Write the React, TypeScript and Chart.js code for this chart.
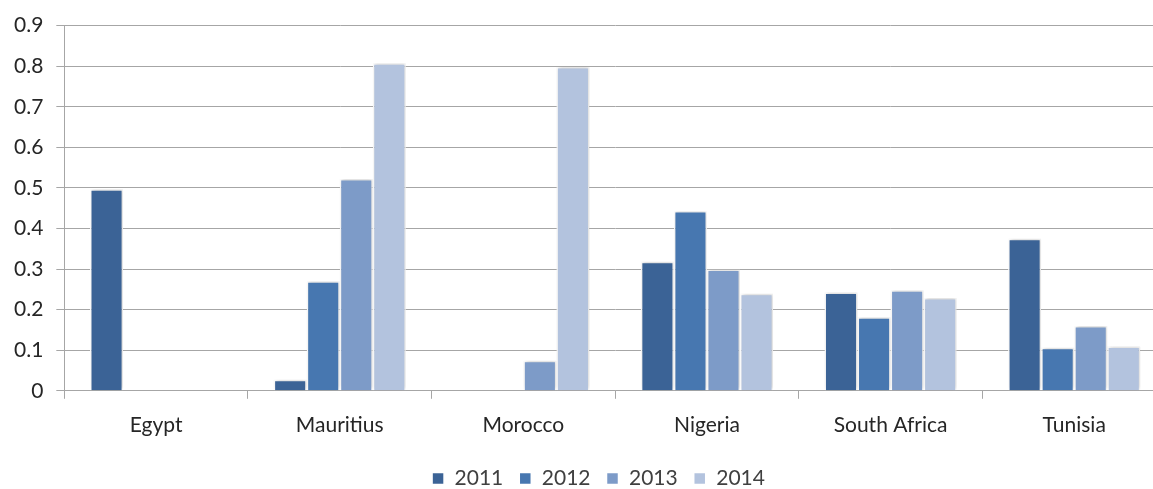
import React, { useEffect, useRef } from "react";
import { Chart, registerables } from "chart.js";

Chart.register(...registerables);

const categories = ["Egypt", "Mauritius", "Morocco", "Nigeria", "South Africa", "Tunisia"];
const years = ["2011", "2012", "2013", "2014"];
const values2011: (number | null)[] = [0.497, 0.027, null, 0.318, 0.242, 0.375];
const values2012: (number | null)[] = [null, 0.27, null, 0.443, 0.181, 0.106];
const values2013: (number | null)[] = [null, 0.522, 0.074, 0.299, 0.248, 0.16];
const values2014: (number | null)[] = [null, 0.807, 0.798, 0.239, 0.229, 0.109];
const colors = ["#3B6396", "#4777B0", "#7D9BC8", "#B3C3DE"];

const FONT = "Lato";
const LEGEND_SHIFT = 15;

const shadowPlugin = {
  id: "barShadow",
  beforeDatasetsDraw(chart: any) {
    const ctx = chart.ctx;
    ctx.save();
    ctx.shadowColor = "rgba(0,0,0,0.18)";
    ctx.shadowBlur = 4;
    ctx.shadowOffsetX = 1;
    ctx.shadowOffsetY = -1;
  },
  afterDatasetsDraw(chart: any) {
    chart.ctx.restore();
  },
};

const legendShiftPlugin = {
  id: "legendShift",
  afterLayout(chart: any) {
    if (chart.legend) {
      chart.legend.left += LEGEND_SHIFT;
      chart.legend.right += LEGEND_SHIFT;
    }
  },
};

export default function App() {
  const ref = useRef<HTMLCanvasElement>(null);
  useEffect(() => {
    if (!ref.current) return;
    const series = [values2011, values2012, values2013, values2014];
    const chart = new Chart(ref.current, {
      type: "bar",
      data: {
        labels: categories,
        datasets: years.map((y, i) => ({
          label: y,
          data: series[i],
          backgroundColor: colors[i],
          borderColor: "#FFFFFF",
          borderWidth: 1.5,
          barPercentage: 1,
          categoryPercentage: 0.72,
        })),
      },
      plugins: [shadowPlugin, legendShiftPlugin],
      options: {
        responsive: false,
        animation: false,
        layout: { padding: { left: 1, top: 17, right: 31, bottom: 4 } },
        plugins: {
          tooltip: { enabled: false },
          legend: {
            position: "bottom",
            labels: {
              boxWidth: 12,
              boxHeight: 12,
              padding: 16,
              color: "#404040",
              font: { family: FONT, size: 21 },
            },
          },
        },
        scales: {
          x: {
            grid: {
              drawOnChartArea: false,
              drawTicks: true,
              tickLength: 8,
              offset: true,
              color: "#A6A6A6",
            },
            border: { display: true, color: "#A6A6A6", width: 1 },
            ticks: { color: "#262626", font: { family: FONT, size: 21 }, padding: 14 },
          },
          y: {
            min: 0,
            max: 0.9,
            ticks: {
              stepSize: 0.1,
              color: "#262626",
              font: { family: FONT, size: 21 },
              padding: 13,
            },
            grid: { color: "#A6A6A6", tickLength: 8, lineWidth: 1 },
            border: { display: true, color: "#A6A6A6", width: 1 },
          },
        },
      },
    });
    return () => chart.destroy();
  }, []);
  return (
    <div style={{ position: "fixed", left: 0, top: 0, width: "100vw", height: "100vh", overflow: "hidden", background: "#fff" }}>
      <canvas ref={ref} width={1197} height={503} style={{ display: "block" }} />
    </div>
  );
}
